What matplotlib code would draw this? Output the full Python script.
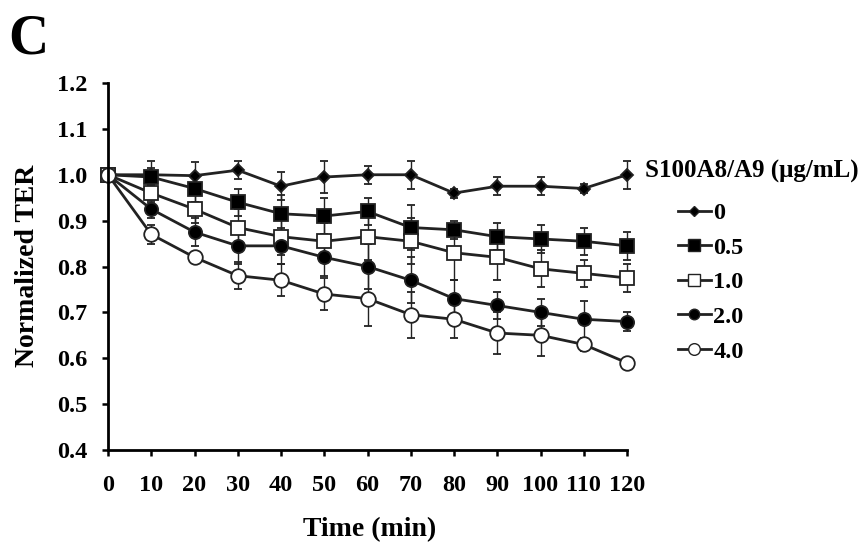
import numpy as np
import matplotlib.pyplot as plt
from matplotlib.lines import Line2D

plt.rcParams['font.family'] = ['Liberation Serif', 'DejaVu Serif']
plt.rcParams['font.weight'] = 'bold'

time = [0, 10, 20, 30, 40, 50, 60, 70, 80, 90, 100, 110, 120]
labels = ['0', '0.5', '1.0', '2.0', '4.0']

ter_0 = [1.0, 1.0, 0.998, 1.01, 0.975, 0.995, 1.0, 1.0, 0.96, 0.975, 0.975, 0.97, 1.0]
ter_05 = [1.0, 0.995, 0.97, 0.94, 0.915, 0.91, 0.92, 0.885, 0.88, 0.865, 0.86, 0.855, 0.845]
ter_1 = [1.0, 0.96, 0.925, 0.885, 0.865, 0.855, 0.865, 0.855, 0.83, 0.82, 0.795, 0.785, 0.775]
ter_2 = [1.0, 0.925, 0.875, 0.845, 0.845, 0.82, 0.8, 0.77, 0.73, 0.715, 0.7, 0.685, 0.68]
ter_4 = [1.0, 0.87, 0.82, 0.78, 0.77, 0.74, 0.73, 0.695, 0.685, 0.655, 0.65, 0.63, 0.59]

err_0 = [0, 0.03, 0.03, 0.02, 0.03, 0.035, 0.02, 0.03, 0.01, 0.02, 0.02, 0.01, 0.03]
err_05 = [0, 0.02, 0.03, 0.03, 0.04, 0.04, 0.03, 0.05, 0.02, 0.03, 0.03, 0.03, 0.03]
err_1 = [0, 0.02, 0.03, 0.04, 0.04, 0.04, 0.05, 0.05, 0.06, 0.05, 0.04, 0.03, 0.03]
err_2 = [0, 0.02, 0.03, 0.04, 0.04, 0.04, 0.05, 0.05, 0.04, 0.03, 0.03, 0.04, 0.02]
err_4 = [0, 0.02, 0.01, 0.03, 0.035, 0.035, 0.06, 0.05, 0.04, 0.045, 0.045, 0.015, 0.01]

series = [ter_0, ter_05, ter_1, ter_2, ter_4]
errors = [err_0, err_05, err_1, err_2, err_4]
markers = ['D', 's', 's', 'o', 'o']
sizes = [6.5, 10, 10, 9.5, 10.5]
faces = ['black', 'black', 'white', 'black', 'white']

W, H = 858, 548
fig = plt.figure(figsize=(W / 100, H / 100), dpi=100)
ax = fig.add_axes([108 / W, 1 - 450 / H, (627 - 108) / W, (450 - 83) / H])

# серии с ошибками
for y, e, m, s, fc in zip(series, errors, markers, sizes, faces):
    ax.errorbar(time, y, yerr=e, color='#222222', lw=2, marker=m, ms=s,
                mfc=fc, mec='#222222', mew=1.3, elinewidth=1, capsize=3, capthick=1,
                clip_on=False)

ax.set_xlim(0, 120)
ax.set_ylim(0.4, 1.2)
ax.set_xticks(time)
ax.set_yticks(np.arange(0.4, 1.21, 0.1))
ax.set_yticklabels(['0.4', '0.5', '0.6', '0.7', '0.8', '0.9', '1.0', '1.1', '1.2'])
ax.tick_params(labelsize=17.5, width=1.8, length=4)
ax.tick_params(axis='x', pad=14)
ax.tick_params(axis='y', pad=11)
for lab in ax.get_xticklabels() + ax.get_yticklabels():
    lab.set_fontweight('bold')
ax.spines['top'].set_visible(False)
ax.spines['right'].set_visible(False)
ax.spines['left'].set_linewidth(2)
ax.spines['bottom'].set_linewidth(2)

fig.text(370 / W, 1 - 530 / H, 'Time (min)', fontsize=20, fontweight='bold',
         ha='center', va='center')
fig.text(28 / W, 1 - 266 / H, 'Normalized TER', fontsize=20, fontweight='bold',
         ha='center', va='center', rotation=90)

# легенда
fig.text(645 / W, 1 - 171 / H, 'S100A8/A9 (\u03bcg/mL)', fontsize=18,
         fontweight='bold', ha='left', va='center')
handles = [Line2D([], [], color='#222222', lw=2, marker=m, ms=s * 0.8, mfc=fc, mec='#222222')
           for m, s, fc in zip(markers, sizes, faces)]
leg = fig.legend(handles, labels, loc='upper left', bbox_to_anchor=(678 / W, 1 - 202 / H),
                 frameon=False, fontsize=17.5, handlelength=1.35, handletextpad=0.1,
                 labelspacing=0.52, borderpad=0, borderaxespad=0)
for t in leg.get_texts():
    t.set_fontweight('bold')

fig.text(8 / W, 1 - 53 / H, 'C', fontsize=40, fontweight='bold', va='baseline')

fig.savefig('out.png', dpi=100)
